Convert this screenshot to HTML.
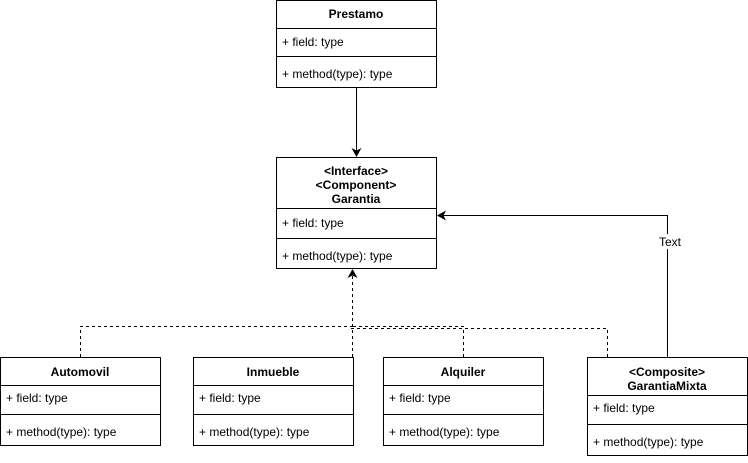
<!DOCTYPE html>
<html><head><style>
body{margin:0;background:#fff;}
svg text{font-family:"Liberation Sans",Arial,sans-serif;font-size:12px;fill:#000;}
.b{font-weight:bold;}
</style></head><body>
<svg width="748" height="458" viewBox="0 0 748 458" xmlns="http://www.w3.org/2000/svg">
<defs>
<marker id="a" markerWidth="10" markerHeight="10" refX="8" refY="5" orient="auto" markerUnits="userSpaceOnUse">
<path d="M0,0 L9,5 L0,10 L2.5,5 Z" fill="#000"/></marker>
</defs>
<g fill="#fff" stroke="#000" stroke-width="1">
<rect x="276.5" y="0.5" width="160" height="87"/>
<line x1="276.5" y1="28.5" x2="436.5" y2="28.5"/>
<line x1="276.5" y1="56.5" x2="436.5" y2="56.5"/>
<rect x="276.5" y="157.5" width="160" height="111"/>
<line x1="276.5" y1="208.5" x2="436.5" y2="208.5"/>
<line x1="276.5" y1="238.5" x2="436.5" y2="238.5"/>
<rect x="0.5" y="357.5" width="160" height="88"/>
<line x1="0.5" y1="385.5" x2="160.5" y2="385.5"/>
<line x1="0.5" y1="414.5" x2="160.5" y2="414.5"/>
<rect x="193.5" y="357.5" width="160" height="88"/>
<line x1="193.5" y1="385.5" x2="353.5" y2="385.5"/>
<line x1="193.5" y1="414.5" x2="353.5" y2="414.5"/>
<rect x="383.5" y="357.5" width="160" height="88"/>
<line x1="383.5" y1="385.5" x2="543.5" y2="385.5"/>
<line x1="383.5" y1="414.5" x2="543.5" y2="414.5"/>
<rect x="587.5" y="357.5" width="160" height="98"/>
<line x1="587.5" y1="395.5" x2="747.5" y2="395.5"/>
<line x1="587.5" y1="424.5" x2="747.5" y2="424.5"/>
</g>
<g fill="none" stroke="#000">
<line x1="356.5" y1="87" x2="356.5" y2="156" marker-end="url(#a)"/>
<polyline points="667.5,357 667.5,215.5 438,215.5" marker-end="url(#a)"/>
<g stroke-dasharray="3,3">
<line x1="352.5" y1="357" x2="352.5" y2="270" marker-end="url(#a)"/>
<polyline points="80.5,357 80.5,326.5 352.5,326.5"/>
<polyline points="463.5,357 463.5,326.5 352.5,326.5"/>
<polyline points="607.5,357 607.5,328.5 350.5,328.5"/>
</g>
</g>
<rect x="656" y="234" width="28" height="15" fill="#fff"/>
<text x="670" y="246" text-anchor="middle">Text</text>
<text class="b" x="356" y="18" text-anchor="middle">Prestamo</text>
<text x="282" y="46">+ field: type</text>
<text x="282" y="78">+ method(type): type</text>
<text class="b" x="356" y="175" text-anchor="middle">&lt;Interface&gt;</text>
<text class="b" x="356" y="189" text-anchor="middle">&lt;Component&gt;</text>
<text class="b" x="356" y="203" text-anchor="middle">Garantia</text>
<text x="282" y="227">+ field: type</text>
<text x="282" y="260">+ method(type): type</text>
<text class="b" x="80" y="376" text-anchor="middle">Automovil</text>
<text x="6" y="402">+ field: type</text>
<text x="6" y="436">+ method(type): type</text>
<text class="b" x="273" y="376" text-anchor="middle">Inmueble</text>
<text x="199" y="402">+ field: type</text>
<text x="199" y="436">+ method(type): type</text>
<text class="b" x="463" y="376" text-anchor="middle">Alquiler</text>
<text x="389" y="402">+ field: type</text>
<text x="389" y="436">+ method(type): type</text>
<text class="b" x="667" y="376" text-anchor="middle">&lt;Composite&gt;</text>
<text class="b" x="667" y="390" text-anchor="middle">GarantiaMixta</text>
<text x="593" y="412">+ field: type</text>
<text x="593" y="446">+ method(type): type</text>
</svg>
</body></html>
